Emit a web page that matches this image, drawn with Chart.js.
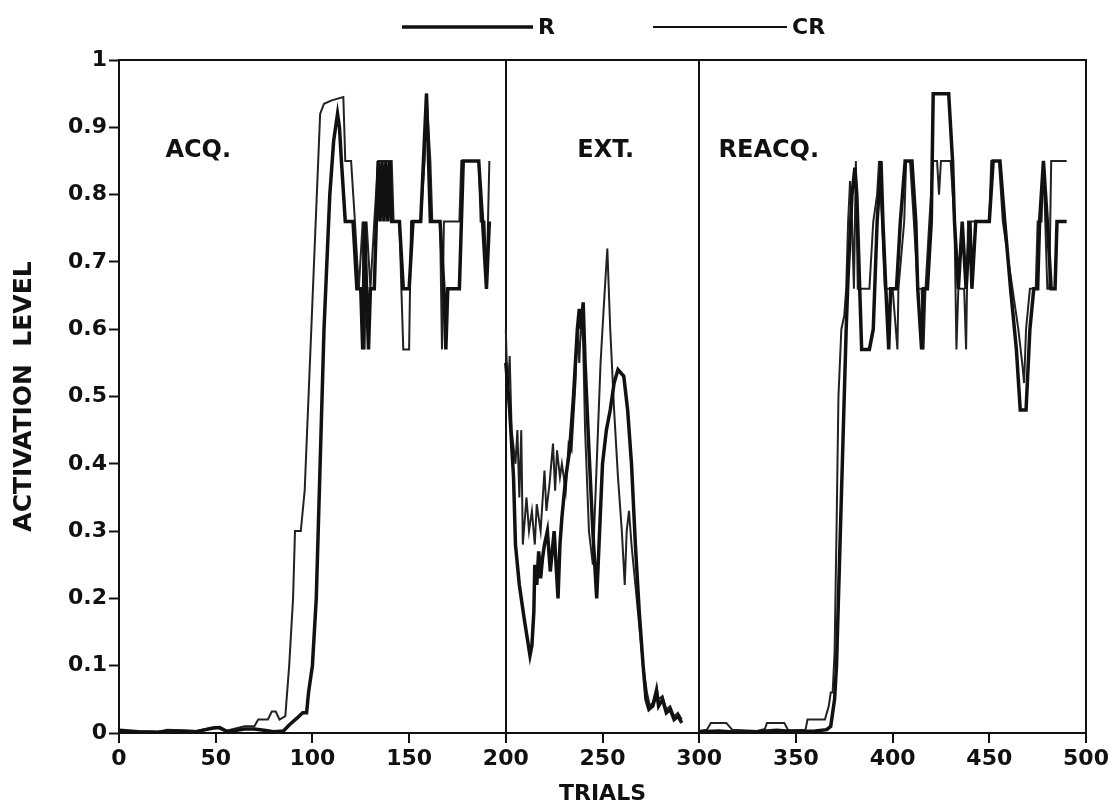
<!DOCTYPE html>
<html>
<head>
<meta charset="utf-8">
<script src="https://cdn.jsdelivr.net/npm/chart.js@4.4.0/dist/chart.umd.min.js"></script>
<style>
  html, body { margin: 0; padding: 0; background: #fff; }
  #chart { display: block; }
</style>
</head>
<body>
<canvas id="chart" width="1113" height="807"></canvas>
<script>
// [trial, activation level], one array per phase
const rAcq = [[0,.004],[10,.002],[20,.001],[30,.003],[40,.002],[48,.007],[52,.008],[56,.002],[65,.006],[70,.006],
  [75,.004],[80,.002],[85,.003],[88,.012],[92,.022],[95,.03],[97,.03],[98,.06],[100,.1],[102,.2],[103,.3],[104,.4],
  [105,.5],[106,.6],[107.5,.7],[109,.8],[111,.88],[113,.92],[114,.9],[115,.85],[117,.76],[121,.76],[123,.66],[125,.66],
  [126,.57],[127,.76],[128,.66],[129,.57],[130,.66],[132,.66],[134,.85],[135,.76],[136,.85],[137,.76],[138,.85],[139,.76],
  [140,.85],[141,.76],[145,.76],[147,.66],[150,.66],[152,.76],[156,.76],[159,.95],[161,.76],[166,.76],[168,.66],[169,.57],
  [170,.66],[176,.66],[178,.85],[186,.85],[188,.76],[190,.66],[191.5,.76]];
const rExt = [[200,.55],[202,.48],[204,.38],[205,.28],[207,.22],[209.5,.17],[212.5,.115],[213.5,.13],[214.5,.18],[215,.25],
  [216,.22],[217,.27],[218,.23],[219,.26],[220,.28],[221.5,.3],[223,.24],[224,.27],[225,.3],[227,.2],[228,.28],[229,.32],
  [231,.38],[233,.42],[235,.5],[237,.6],[238,.63],[239,.6],[240,.64],[241,.55],[243,.42],[245,.3],[247,.2],[248.5,.3],
  [250,.4],[252,.45],[254,.48],[256,.52],[258,.54],[261,.53],[263,.48],[265,.4],[267,.28],[269,.18],[271,.1],[272.5,.05],
  [274,.035],[276,.04],[278,.06],[279,.04],[281,.05],[283,.03],[285,.035],[287,.02],[289,.025],[291,.015]];
const rReacq = [[300,.002],[310,.003],[320,.001],[330,.002],[340,.004],[350,.002],[360,.003],[366,.005],[368,.01],[370,.05],
  [371,.1],[372,.2],[373,.3],[374,.4],[375,.5],[376,.6],[377,.68],[378,.74],[379,.8],[380.5,.84],[381.5,.8],[383,.66],
  [384,.57],[388,.57],[390,.6],[392,.76],[394,.85],[395,.76],[396.5,.66],[398,.57],[399,.66],[402,.66],[404,.76],[406.5,.85],
  [410,.85],[412,.76],[413,.66],[415,.57],[416,.66],[418,.66],[420,.76],[421,.95],[429,.95],[431,.85],[432,.76],[434,.66],
  [436,.76],[438,.66],[440,.76],[441,.66],[443,.76],[450,.76],[452,.85],[455.5,.85],[458,.76],[461,.66],[464,.57],[466,.48],
  [469,.48],[471,.6],[473,.66],[475,.66],[476,.76],[478,.85],[480,.76],[482,.66],[484,.66],[485,.76],[490,.76]];

const crAcq = [[0,.003],[20,.002],[25,.005],[40,.003],[50,.009],[55,.003],[65,.01],[70,.01],[72,.02],[77,.02],[79,.032],
  [81,.032],[83,.02],[86,.025],[88,.1],[90,.2],[91,.3],[94,.3],[96,.36],[98,.5],[100,.64],[102,.78],[104,.92],[106,.935],
  [110,.94],[116,.945],[117,.85],[120,.85],[122,.76],[124,.66],[126,.76],[127,.57],[128,.76],[130,.66],[132,.76],[134,.85],
  [141,.85],[142,.76],[145,.76],[146,.66],[147,.57],[150,.57],[151,.76],[156,.76],[158,.85],[159,.95],[161,.85],[162,.76],
  [166,.76],[167,.57],[168,.76],[176,.76],[177,.85],[186,.85],[187,.76],[189,.76],[190,.66],[191.5,.85]];
const crExt = [[200,.6],[201,.5],[202,.56],[203,.45],[205,.4],[206,.45],[207,.35],[208,.45],[208.8,.28],[210.7,.35],[212,.3],
  [213.5,.33],[215,.28],[216,.34],[218,.3],[220,.39],[221,.33],[222.6,.37],[224.4,.43],[225.5,.36],[226.5,.42],[228,.38],
  [229,.4],[231,.36],[232.5,.43],[234,.42],[236,.52],[237,.6],[238,.55],[239,.62],[240,.58],[241,.45],[243,.3],[245,.25],
  [247,.4],[249,.55],[251,.65],[252.5,.72],[254,.6],[256,.48],[258,.38],[260,.3],[261.5,.22],[262.5,.3],[263.7,.33],
  [265,.28],[267,.22],[269,.16],[271,.1],[273,.06],[274.5,.04],[276,.045],[278,.07],[279,.05],[281,.055],[283,.035],
  [285,.04],[287,.025],[289,.03],[291,.02]];
const crReacq = [[300,.003],[304,.005],[306,.015],[314,.015],[317,.005],[330,.003],[334,.006],[335,.015],[344,.015],[346,.004],
  [355,.005],[356,.02],[365,.02],[367,.04],[368,.06],[369,.06],[370,.12],[371,.3],[372,.5],[373.5,.6],[375,.62],[376,.66],
  [377,.76],[378,.82],[379,.76],[380,.66],[381,.85],[382,.66],[388,.66],[390,.76],[392,.8],[393,.85],[394.5,.76],[396,.66],
  [400,.66],[402.5,.57],[403,.66],[406,.76],[407,.85],[409,.85],[411,.76],[413,.66],[415,.66],[416,.57],[417,.66],[419,.76],
  [421,.85],[423,.85],[424,.8],[425,.85],[430,.85],[432,.76],[433,.57],[434,.66],[437,.66],[438,.57],[439,.76],[450,.76],
  [451,.85],[455,.85],[457,.76],[460,.7],[462,.66],[465,.6],[467,.55],[468,.52],[469,.6],[471,.66],[474,.66],[475,.76],
  [477,.76],[478,.85],[480,.66],[481,.66],[482,.85],[490,.85]];

const seriesNames = ['R', 'CR'];
const phaseNames = ['ACQ.', 'EXT.', 'REACQ.'];

const FONT = 'DejaVu Sans';

// join the three phases, breaking the line between them
function joinPhases(phases) {
    const out = [];
    phases.forEach((p, i) => {
        if (i > 0) out.push({x: p[0][0] - 4, y: null});
        p.forEach(([x, y]) => out.push({x, y}));
    });
    return out;
}

const decorations = {
    id: 'decorations',
    afterDatasetsDraw(chart) {
        const {ctx, chartArea: a, scales: {x, y}} = chart;
        ctx.save();
        // top and right edges of the box
        ctx.strokeStyle = '#111';
        ctx.lineWidth = 2;
        ctx.beginPath();
        ctx.moveTo(a.left, a.top);
        ctx.lineTo(a.right, a.top);
        ctx.lineTo(a.right, a.bottom);
        ctx.stroke();

        // phase labels
        ctx.fillStyle = '#111';
        ctx.font = 'bold 24px ' + FONT;
        ctx.textBaseline = 'middle';
        ctx.textAlign = 'left';
        const at = [24, 237, 310];
        phaseNames.forEach((t, i) => ctx.fillText(t, x.getPixelForValue(at[i]), y.getPixelForValue(0.865)));

        // legend: line then name
        const starts = [402, 653], lens = [131, 134];
        ctx.font = 'bold 22px ' + FONT;
        chart.data.datasets.forEach((ds, i) => {
            ctx.lineWidth = ds.borderWidth;
            ctx.beginPath();
            ctx.moveTo(starts[i], 27);
            ctx.lineTo(starts[i] + lens[i], 27);
            ctx.stroke();
            ctx.fillText(ds.label, starts[i] + lens[i] + 5, 28);
        });
        ctx.restore();
    }
};

new Chart(document.getElementById('chart'), {
    type: 'line',
    data: {
        datasets: [
            { label: seriesNames[0], data: joinPhases([rAcq, rExt, rReacq]), borderColor: '#111', borderWidth: 3.5 },
            { label: seriesNames[1], data: joinPhases([crAcq, crExt, crReacq]), borderColor: '#222', borderWidth: 2 }
        ]
    },
    options: {
        responsive: false,
        animation: false,
        spanGaps: false,
        layout: { padding: { top: 60, right: 27, left: 0, bottom: 0 } },
        elements: { point: { radius: 0 }, line: { tension: 0 } },
        plugins: { legend: { display: false }, tooltip: { enabled: false } },
        scales: {
            x: {
                type: 'linear', min: 0, max: 500,
                afterFit(s) { s.height = 74; },
                ticks: { stepSize: 50, color: '#111', padding: 3, maxRotation: 0, font: { family: FONT, weight: 'bold', size: 22 } },
                grid: {
                    color: c => (c.tick && (c.tick.value === 200 || c.tick.value === 300)) ? '#111' : 'rgba(0,0,0,0)',
                    lineWidth: 2, tickColor: '#111', tickWidth: 2, tickLength: 10
                },
                border: { color: '#111', width: 2 },
                title: { display: true, text: 'TRIALS', color: '#111', padding: 0, font: { family: FONT, weight: 'bold', size: 22 } }
            },
            y: {
                min: 0, max: 1,
                afterFit(s) { s.width = 119; },
                ticks: {
                    stepSize: 0.1, color: '#111', padding: 2,
                    font: { family: FONT, weight: 'bold', size: 22 },
                    callback: v => Math.abs(v) < 1e-9 ? '0' : Math.abs(v - 1) < 1e-9 ? '1' : v.toFixed(1)
                },
                grid: { drawOnChartArea: false, tickColor: '#111', tickWidth: 2, tickLength: 10 },
                border: { color: '#111', width: 2 },
                title: { display: true, text: 'ACTIVATION  LEVEL', color: '#111', padding: { top: 9, bottom: 0 }, font: { family: FONT, weight: 'bold', size: 25 } }
            }
        }
    },
    plugins: [decorations]
});
</script>
</body>
</html>
